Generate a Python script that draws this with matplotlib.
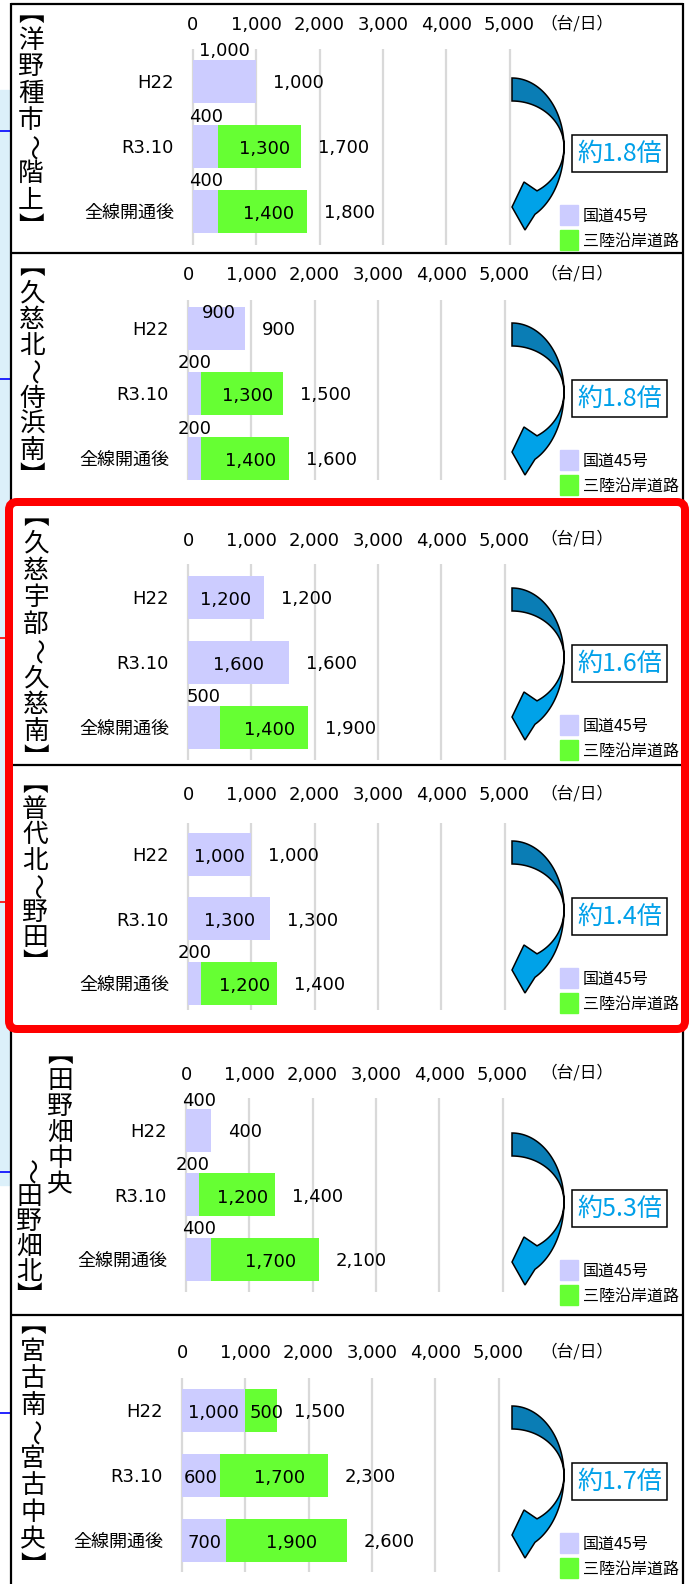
import numpy as np
import matplotlib
matplotlib.use('Agg')
import matplotlib.pyplot as plt
from matplotlib.patches import Rectangle, Polygon, FancyBboxPatch

plt.rcParams['font.family'] = ['DejaVu Sans', 'Noto Sans CJK JP']
JP = ['Noto Sans CJK JP', 'DejaVu Sans']

# ---- data ----
sections = ['【洋野種市〜階上】', '【久慈北〜侍浜南】', '【久慈宇部〜久慈南】',
            '【普代北〜野田】', '【田野畑中央〜田野畑北】', '【宮古南〜宮古中央】']
periods = ['H22', 'R3.10', '全線開通後']
route45 = [[1000, 400, 400], [900, 200, 200], [1200, 1600, 500],
           [1000, 1300, 200], [400, 200, 400], [1000, 600, 700]]
sanriku = [[0, 1300, 1400], [0, 1300, 1400], [0, 0, 1400],
           [0, 0, 1200], [0, 1200, 1700], [500, 1700, 1900]]
ratios = ['約1.8倍', '約1.8倍', '約1.6倍', '約1.4倍', '約5.3倍', '約1.7倍']
xticks = [0, 1000, 2000, 3000, 4000, 5000]
unit = '（台/日）'
legend_labels = ['国道45号', '三陸沿岸道路']

# ---- layout (pixels of the 693x1584 picture) ----
W, H = 693, 1584
PX = 63.3 / 1000          # pixels per vehicle
zero_x = [193, 188, 188, 188, 186, 182]
tick_y = [24, 274, 539, 794, 1073, 1352]
row_y = [[81, 146, 211], [328, 394, 458], [597, 662, 727],
         [854, 919, 983], [1130, 1195, 1259], [1410, 1475, 1540]]
grid_y = [(49, 245), (300, 480), (564, 760), (823, 1010), (1098, 1292), (1378, 1572)]
arrow_top = [78, 323, 588, 841, 1133, 1406]
label_mode = [['a', 'a', 'a'], ['t', 'a', 'a'], ['c', 'c', 'a'],
              ['c', 'c', 'a'], ['a', 'a', 'a'], ['c', 'c', 'c']]
# title columns: (x, y of first char, pitch, slice start, slice end)
title_cols = [[(31, 14, 26.7, 0, 9)],
              [(32, 267, 26.3, 0, 9)],
              [(36, 517, 26.9, 0, 10)],
              [(35, 784, 25.7, 0, 8)],
              [(60, 1055, 26, 0, 6), (29, 1172, 25, 6, 12)],
              [(33, 1325, 26.9, 0, 10)]]
vertical_forms = {'【': '\ufe3b', '】': '\ufe3c'}

C45 = '#ccccff'
CSR = '#66ff33'
BAR_H = 43

fig = plt.figure(figsize=(W / 100, H / 100), dpi=100)
fig.patch.set_facecolor('white')


def fig_rect(x0, y0, x1, y1):
    return [x0 / W, 1 - y1 / H, (x1 - x0) / W, (y1 - y0) / H]


for k in range(6):
    z = zero_x[k]
    g0, g1 = grid_y[k]
    rows = row_y[k]
    step = (rows[2] - rows[0]) / 2
    ax = fig.add_axes(fig_rect(z - 100 * PX, g0, z + 5100 * PX, g1))
    ax.set_xlim(-100, 5100)
    ax.set_ylim(2 + (g1 - rows[2]) / step, (g0 - rows[0]) / step)
    ax.patch.set_alpha(0)
    for s in ax.spines.values():
        s.set_visible(False)
    idx = np.arange(3)
    a = np.array(route45[k])
    b = np.array(sanriku[k])
    bh = BAR_H / step
    ax.barh(idx, a, height=bh, color=C45, zorder=2)
    ax.barh(idx, b, left=a, height=bh, color=CSR, zorder=2)
    ax.set_xticks(xticks)
    ax.set_xticklabels([f'{v:,}' for v in xticks])
    ax.xaxis.tick_top()
    ax.tick_params(axis='x', length=0, labelsize=13, pad=((g0 - tick_y[k]) - 10.5) * 0.72)
    ax.grid(axis='x', color='#d9d9d9', lw=1.6, zorder=0)
    ax.set_yticks(idx)
    ax.set_yticklabels(periods)
    ax.tick_params(axis='y', length=0, labelsize=13, pad=(19 - 100 * PX) * 0.72)

    for i in range(3):
        mode = label_mode[k][i]
        if a[i] > 0:
            if mode == 'a':
                ax.annotate(f'{a[i]:,}', (a[i] / 2, i - bh / 2), xytext=(0, 8 * 0.72),
                            textcoords='offset points', ha='center', va='center', fontsize=13)
            elif mode == 't':
                ax.annotate(f'{a[i]:,}', (a[i] / 2, i - bh / 2), xytext=(2, -6 * 0.72),
                            textcoords='offset points', ha='center', va='center', fontsize=13)
            else:
                ax.annotate(f'{a[i]:,}', (a[i] / 2, i), xytext=(0, -2),
                            textcoords='offset points', ha='center', va='center', fontsize=13)
        if b[i] > 0:
            ax.annotate(f'{b[i]:,}', (a[i] + b[i] / 2, i), xytext=(4, -2.5),
                        textcoords='offset points', ha='center', va='center', fontsize=13)
        tot = a[i] + b[i]
        ax.annotate(f'{tot:,}', (tot, i), xytext=(17 * 0.72, -1.5),
                    textcoords='offset points', ha='left', va='center', fontsize=13)

# ---- overlay in pixel coordinates ----
ov = fig.add_axes([0, 0, 1, 1], zorder=5)
ov.set_xlim(0, W)
ov.set_ylim(H, 0)
ov.axis('off')
ov.patch.set_alpha(0)

# background strip of the map behind
ov.add_patch(Rectangle((0, 90), 9, 1185 - 90, color='#dcf0fa', zorder=0))
for yy, c in [(131, '#0000ff'), (379, '#0000ff'), (638, '#ff0000'), (902, '#ff0000'),
              (1172, '#0000ff'), (1413, '#0000ff')]:
    ov.plot([0, 10], [yy, yy], color=c, lw=1.2, zorder=1)

# panel frames
blk = dict(color='black', lw=1.6, zorder=3, solid_capstyle='butt')
ov.plot([11, 11], [3, 505], **blk)
ov.plot([683, 683], [3, 505], **blk)
ov.plot([11, 683], [4, 4], **blk)
ov.plot([11, 683], [253, 253], **blk)
ov.plot([13, 681], [765, 765], **blk)
ov.plot([11, 11], [1025, H], **blk)
ov.plot([683, 683], [1025, H], **blk)
ov.plot([11, 683], [1315, 1315], **blk)
ov.add_patch(FancyBboxPatch((9, 502), 676, 527, boxstyle='round,pad=0,rounding_size=8',
                            fc='none', ec='#ff0000', lw=8 * 0.72, zorder=10))


def arrow_polys(x0, top):
    cx, cy = x0, top + 69
    t = np.radians(np.linspace(90, 0, 40))
    outer = np.column_stack([cx + 52 * np.cos(t), cy - 69 * np.sin(t)])
    inner = np.column_stack([cx + 52 * np.cos(t[::-1]), cy - 46 * np.sin(t[::-1])])
    dark = np.vstack([outer, inner])
    ti = np.radians(np.linspace(0, np.degrees(np.arccos(25 / 52)), 40))
    to = np.radians(np.linspace(np.degrees(np.arccos(23 / 52)), 0, 40))
    low_in = np.column_stack([cx + 52 * np.cos(ti), cy + 50 * np.sin(ti)])
    head = np.array([[cx + 12, top + 104], [cx + 0, top + 129], [cx + 13, top + 152]])
    low_out = np.column_stack([cx + 52 * np.cos(to), cy + 75 * np.sin(to)])
    light = np.vstack([low_in, head, low_out])
    return dark, light


for k in range(6):
    top = arrow_top[k]
    dark, light = arrow_polys(512, top)
    ov.add_patch(Polygon(light, closed=True, fc='#00a2e8', ec='black', lw=1.1, zorder=4))
    ov.add_patch(Polygon(dark, closed=True, fc='#0a7db5', ec='black', lw=1.1, zorder=4))
    ov.add_patch(Rectangle((572, top + 57), 95, 37, fc='white', ec='black', lw=1.1, zorder=4))
    ov.text(620, top + 76, ratios[k], ha='center', va='center', fontsize=18,
            color='#00a0e9', family=JP, zorder=5)
    for j, col in enumerate([C45, CSR]):
        ov.add_patch(Rectangle((560, top + 127 + 25 * j), 18, 20, color=col, zorder=4))
        ov.text(583, top + 138 + 25 * j, legend_labels[j], ha='left', va='center',
                fontsize=11.5, family=JP, zorder=5)
    ov.text(540, tick_y[k], unit, ha='left', va='center', fontsize=12, family=JP)

    for (x, y0, pitch, s0, s1) in title_cols[k]:
        for n, ch in enumerate(sections[k][s0:s1]):
            rot = -90 if ch == '〜' else 0
            ov.text(x, y0 + n * pitch, vertical_forms.get(ch, ch), ha='center', va='center',
                    rotation=rot, fontsize=18.5, family=JP, zorder=5)

fig.savefig('out.png', dpi=100, facecolor='white')
